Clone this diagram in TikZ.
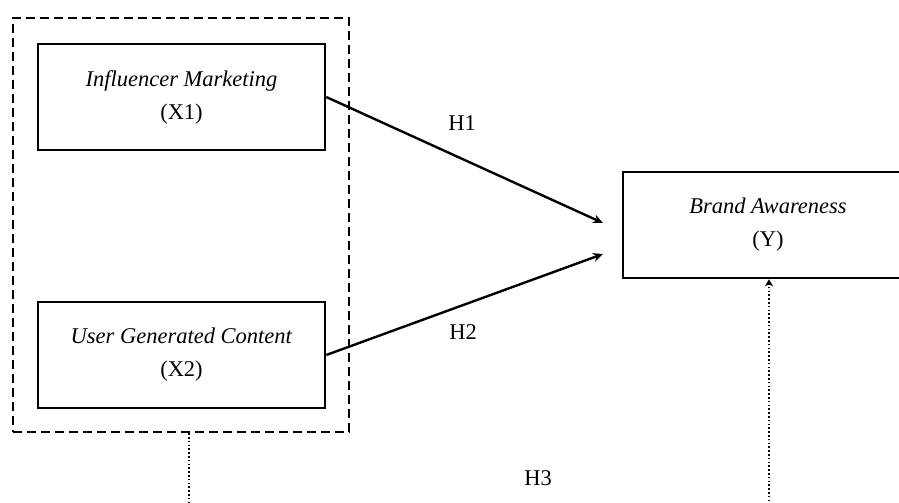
\documentclass[tikz,border=0pt]{standalone}
\usepackage{fontspec}
\setmainfont{Liberation Serif}
\usetikzlibrary{arrows,arrows.meta,calc,positioning}

\begin{document}
\begin{tikzpicture}[
  x=1pt, y=1pt,
  var/.style={rectangle, draw, line width=2.5pt, minimum width=287pt, minimum height=106pt, font=\fontsize{22.5}{33}\selectfont, align=center},
  grp/.style={rectangle, draw, line width=2.5pt, dash pattern=on 9pt off 5pt},
  arr/.style={-{Stealth[length=10pt, width=9pt]}, line width=2.4pt},
  dot/.style={-{Stealth[length=7pt, width=8pt, inset=2pt]}, line width=2.6pt, dash pattern=on 1.6pt off 2.2pt},
  hyp/.style={font=\fontsize{22.5}{24}\selectfont}
]
\useasboundingbox (0,0) rectangle (899,-503);

\node[var] (x1) at (181.5,-97)  {\textit{Influencer Marketing}\\(X1)};
\node[var] (x2) at (181.5,-355) {\textit{User Generated Content}\\(X2)};
\node[var, minimum width=290pt] (y) at (768,-225) {\textit{Brand Awareness}\\(Y)};

% group of the independent variables
\node[grp, minimum width=336pt, minimum height=414pt] (grp) at (181,-225) {};

\coordinate (h1end) at (603,-223);
\coordinate (h2end) at (603,-254);
\coordinate (lowl) at (189,-504);
\coordinate (lowr) at (769,-504);

\draw[arr] (x1.east) -- (h1end);
\draw[arr] (x2.east) -- (h2end);
\draw[dot] (grp.south -| lowl) -- (lowl) -- (lowr) -- (y.south -| lowr);

\node[hyp] (h1) at (462,-123) {H1};
\node[hyp] (h2) at (463,-332) {H2};
\node[hyp] (h3) at (538,-478) {H3};
\end{tikzpicture}
\end{document}
